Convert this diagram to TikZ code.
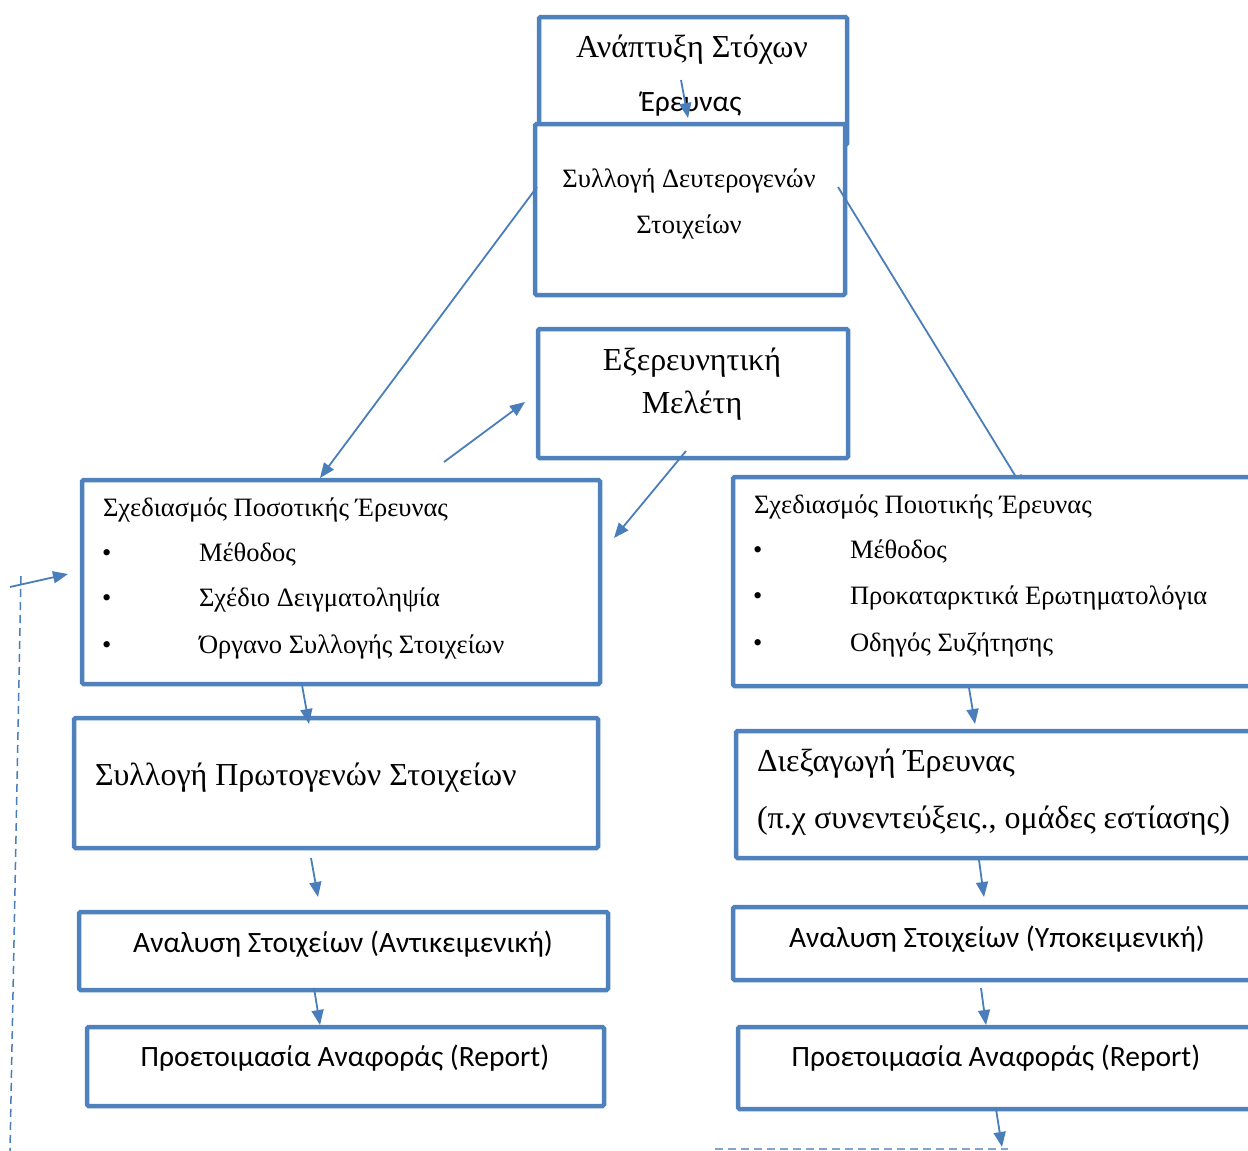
\documentclass[tikz,border=0pt]{standalone}
\usepackage{fontspec}
\setmainfont{Liberation Serif}
\newfontfamily\calibri{Carlito}
\usetikzlibrary{arrows.meta,calc}
\definecolor{boxblue}{HTML}{4F81BD}
\definecolor{linkblue}{HTML}{4A7EBB}
\tikzset{
  box/.style={draw=boxblue, line width=4.5pt, fill=white, inner sep=0pt, outer sep=0pt, rounded corners=1.5pt},
  link/.style={draw=linkblue, line width=1.8pt, -{Triangle[length=15pt,width=12pt]}},
  txt/.style={inner sep=0pt, outer sep=0pt},
  bigserif/.style={txt, font=\fontsize{32}{38}\selectfont},
  midserif/.style={txt, font=\fontsize{26.5}{31}\selectfont},
  sans/.style={txt, font=\calibri\fontsize{29.5}{35}\selectfont},
}
\begin{document}
\begin{tikzpicture}[x=1pt,y=-1pt]
\useasboundingbox[fill=white] (0,0) rectangle (1248,1151);

% upper boxes (centre, size)
\node[box, minimum width=308pt, minimum height=128pt] (goals) at (693,81) {};
\node[box, minimum width=310pt, minimum height=171pt] (second) at (690,209.5) {};
\node[box, minimum width=310pt, minimum height=129pt] (explore) at (693,393.5) {};

% the link into the qualitative design box runs under that box
\coordinate (qualtop) at (1024,490);
\draw[link] ($(second.north east)+(-7,63)$) -- (qualtop);

% lower boxes
\node[box, minimum width=518pt, minimum height=204pt] (quant) at (341,582) {};
\node[box, minimum width=527pt, minimum height=209pt] (qual) at (996.5,581.5) {};
\node[box, minimum width=524pt, minimum height=130pt] (primary) at (336,783) {};
\node[box, minimum width=524pt, minimum height=127pt] (conduct) at (998,794.5) {};
\node[box, minimum width=529pt, minimum height=78pt] (anleft) at (343.5,951) {};
\node[box, minimum width=527pt, minimum height=73pt] (anright) at (996.5,943.5) {};
\node[box, minimum width=517pt, minimum height=79pt] (repleft) at (345.5,1066.5) {};
\node[box, minimum width=522pt, minimum height=82pt] (repright) at (999,1068) {};

% texts
\node[bigserif, anchor=base] (tgoals1) at (692,57) {Ανάπτυξη Στόχων};
\node[sans, anchor=base] (tgoals2) at (691,111) {Έρευνας};
\node[midserif, anchor=base] (tsec1) at (689,187) {Συλλογή Δευτερογενών};
\node[midserif, anchor=base] (tsec2) at (689,233) {Στοιχείων};
\node[bigserif, anchor=base] (texp1) at (692,370) {Εξερευνητική};
\node[bigserif, anchor=base] (texp2) at (692,413) {Μελέτη};

\node[midserif, anchor=base west] (tq0) at (103,516) {Σχεδιασμός Ποσοτικής Έρευνας};
\node[midserif, anchor=base west] (tqb1) at (102,561) {•};
\node[midserif, anchor=base west] (tqb2) at (102,606) {•};
\node[midserif, anchor=base west] (tqb3) at (102,653) {•};
\node[midserif, anchor=base west] (tq1) at (199,561) {Μέθοδος};
\node[midserif, anchor=base west] (tq2) at (199,606) {Σχέδιο Δειγματοληψία};
\node[midserif, anchor=base west] (tq3) at (199,653) {Όργανο Συλλογής Στοιχείων};

\node[midserif, anchor=base west] (tl0) at (754,513) {Σχεδιασμός Ποιοτικής Έρευνας};
\node[midserif, anchor=base west] (tlb1) at (753,558) {•};
\node[midserif, anchor=base west] (tlb2) at (753,604) {•};
\node[midserif, anchor=base west] (tlb3) at (753,651) {•};
\node[midserif, anchor=base west] (tl1) at (850,558) {Μέθοδος};
\node[midserif, anchor=base west] (tl2) at (850,604) {Προκαταρκτικά Ερωτηματολόγια};
\node[midserif, anchor=base west] (tl3) at (850,651) {Οδηγός Συζήτησης};

\node[bigserif, anchor=base west] (tprim) at (95,785) {Συλλογή Πρωτογενών Στοιχείων};
\node[bigserif, anchor=base west] (tcond1) at (757,771) {Διεξαγωγή Έρευνας};
\node[bigserif, anchor=base west] (tcond2) at (757,828) {(π.χ συνεντεύξεις., ομάδες εστίασης)};

\node[sans, anchor=base] (tanl) at (343,952) {Αναλυση Στοιχείων (Αντικειμενική)};
\node[sans, anchor=base] (tanr) at (997,947) {Αναλυση Στοιχείων (Υποκειμενική)};
\node[sans, anchor=base] (trepl) at (345,1066) {Προετοιμασία Αναφοράς (Report)};
\node[sans, anchor=base] (trepr) at (996,1066) {Προετοιμασία Αναφοράς (Report)};

% free ends of the dashed feedback lines
\coordinate (fbtop) at (21,576);
\coordinate (fbbottom) at (10,1151);
\coordinate (fbstart) at (10,587);
\coordinate (endl) at (715,1149);
\coordinate (endr) at (1008,1149);

% connectors
\draw[link] ($(goals.north west)+(142,63)$) -- ($(second.north west)+(153,-6)$);
\draw[link] ($(second.north west)+(2,63)$) -- ($(quant.north west)+(238,-2)$);
\draw[link] ($(quant.north east)+(-156,-18)$) -- ($(explore.west)+(-13,8.5)$);
\draw[link] ($(explore.south)+(-7,-7)$) -- ($(quant.east)+(14,-44)$);
\draw[link] ($(quant.south)+(-39,1)$) -- ($(primary.north)+(-27,6)$);
\draw[link] ($(primary.south)+(-25,10)$) -- ($(anleft.north)+(-25.5,-15)$);
\draw[link] ($(anleft.south)+(-29.5,-2)$) -- ($(repleft.north)+(-25.5,-2)$);
\draw[link] ($(qual.south)+(-27.5,2)$) -- ($(conduct.north)+(-23,-7)$);
\draw[link] ($(conduct.south)+(-19,2)$) -- ($(anright.north)+(-12.5,-10)$);
\draw[link] ($(anright.south)+(-15.5,8)$) -- ($(repright.north)+(-13,-2)$);
\draw[link] ($(repright.south)+(-3,0)$) -- ($(endr)+(-6,-2)$);

% dashed feedback lines
\draw[linkblue, line width=1.5pt, dash pattern=on 8pt off 5pt] (fbtop) -- (fbbottom);
\draw[link] (fbstart) -- ($(quant.west)+(-14,-8)$);
\draw[linkblue!70, line width=1.5pt, dash pattern=on 8pt off 5pt] (endl) -- (endr);
\end{tikzpicture}
\end{document}
